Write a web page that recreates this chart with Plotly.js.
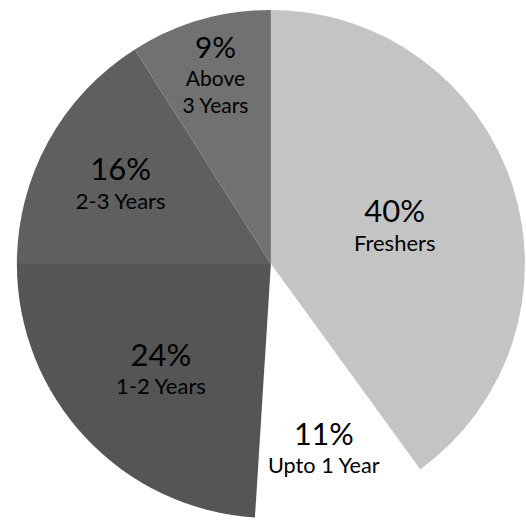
<!DOCTYPE html>
<html><head><meta charset="utf-8">
<script src="https://cdn.plot.ly/plotly-3.0.1.min.js"></script>
<style>html,body{margin:0;padding:0;background:#fff}#c{width:526px;height:523px}</style>
</head><body><div id="c"></div>
<script>
var categories = ["Freshers", "Upto 1 Year", "1-2 Years", "2-3 Years", "Above 3 Years"];
var labelLines = ["Freshers", "Upto 1 Year", "1-2 Years", "2-3 Years", "Above<br>3 Years"];
var shares = [40, 11, 24, 16, 9];
var sliceColors = ["#c4c4c4", "#ffffff", "#555555", "#5f5f5f", "#717171"];

var texts = shares.map(function(v, i){
  return "<span style='font-size:31px'>" + v + "%</span><br>" + labelLines[i];
});

Plotly.newPlot("c", [{
  type: "pie",
  labels: categories,
  values: shares,
  text: texts,
  textinfo: "text",
  textposition: "inside",
  insidetextorientation: "horizontal",
  hoverinfo: "label+percent",
  sort: false,
  direction: "clockwise",
  rotation: 0,
  marker: {colors: sliceColors, line: {width: 0}},
  insidetextfont: {family: "Lato, 'Open Sans', sans-serif", size: 22, color: "#000000"},
  domain: {x: [0.032, 0.998], y: [0.0096, 0.981]}
}], {
  width: 526, height: 523,
  margin: {l: 0, r: 0, t: 0, b: 0},
  showlegend: false,
  paper_bgcolor: "#ffffff"
}, {displayModeBar: false, staticPlot: true});
</script>
</body></html>
